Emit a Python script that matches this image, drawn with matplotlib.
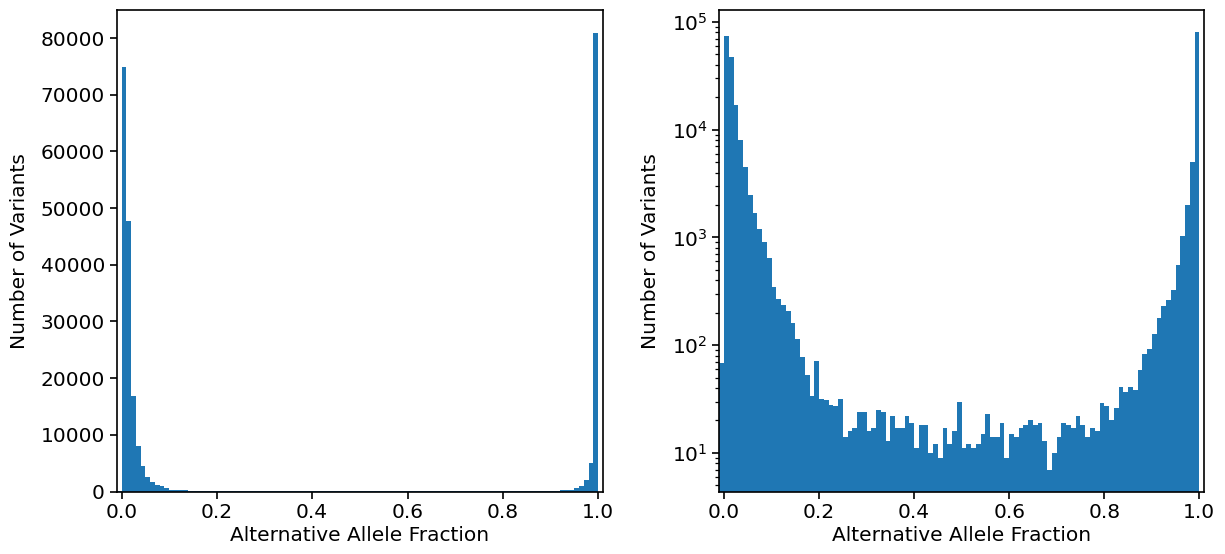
import numpy as np
import matplotlib
matplotlib.use('Agg')
import matplotlib.pyplot as plt

# counts per 0.01-wide bin, first bin is [-0.01, 0.0), last is [0.99, 1.0]
bin_start = -0.01
bin_width = 0.01
counts = [
    69, 74800, 47700, 16900, 8000, 4550, 2500, 1700, 1190, 915,
    645, 347, 271, 235, 207, 159, 114, 78, 53, 34,
    71, 32, 31, 28, 27, 32, 14, 16, 17, 24,
    24, 16, 17, 25, 24, 13, 22, 17, 17, 22,
    19, 11, 18, 18, 10, 12, 9, 17, 12, 16,
    30, 11, 12, 11, 12, 15, 23, 14, 14, 19,
    9, 15, 14, 17, 18, 20, 18, 19, 13, 7,
    10, 14, 19, 18, 17, 22, 18, 14, 17, 16,
    29, 27, 20, 26, 41, 37, 41, 38, 59, 82,
    92, 126, 177, 231, 262, 326, 556, 1030, 2000, 5020,
    80900,
]
x_ticks = [0.0, 0.2, 0.4, 0.6, 0.8, 1.0]
x_label = 'Alternative Allele Fraction'
y_label = 'Number of Variants'

plt.rcParams['font.size'] = 14.5
plt.rcParams['axes.linewidth'] = 1.2
plt.rcParams['xtick.major.width'] = 1.2
plt.rcParams['ytick.major.width'] = 1.2
plt.rcParams['ytick.minor.width'] = 0.9
plt.rcParams['xtick.major.size'] = 5
plt.rcParams['ytick.major.size'] = 5
plt.rcParams['ytick.minor.size'] = 2.8

edges = bin_start + bin_width * np.arange(len(counts) + 1)
centers = (edges[:-1] + edges[1:]) / 2

fig = plt.figure(figsize=(12.25, 5.54), dpi=100)
ax1 = fig.add_axes([0.0953, 0.1128, 0.3969, 0.8692])
ax2 = fig.add_axes([0.5872, 0.1128, 0.3957, 0.8692])

# linear histogram
ax1.hist(centers, bins=edges, weights=counts, color='#1f77b4')
# same data, log y
ax2.hist(centers, bins=edges, weights=counts, color='#1f77b4', log=True)

for ax in (ax1, ax2):
    ax.set_xlim(-0.01, 1.01)
    ax.set_xticks(x_ticks)
    ax.set_xlabel(x_label, labelpad=3)
    ax.set_ylabel(y_label, labelpad=8)

fig.savefig('out.png', dpi=100)
